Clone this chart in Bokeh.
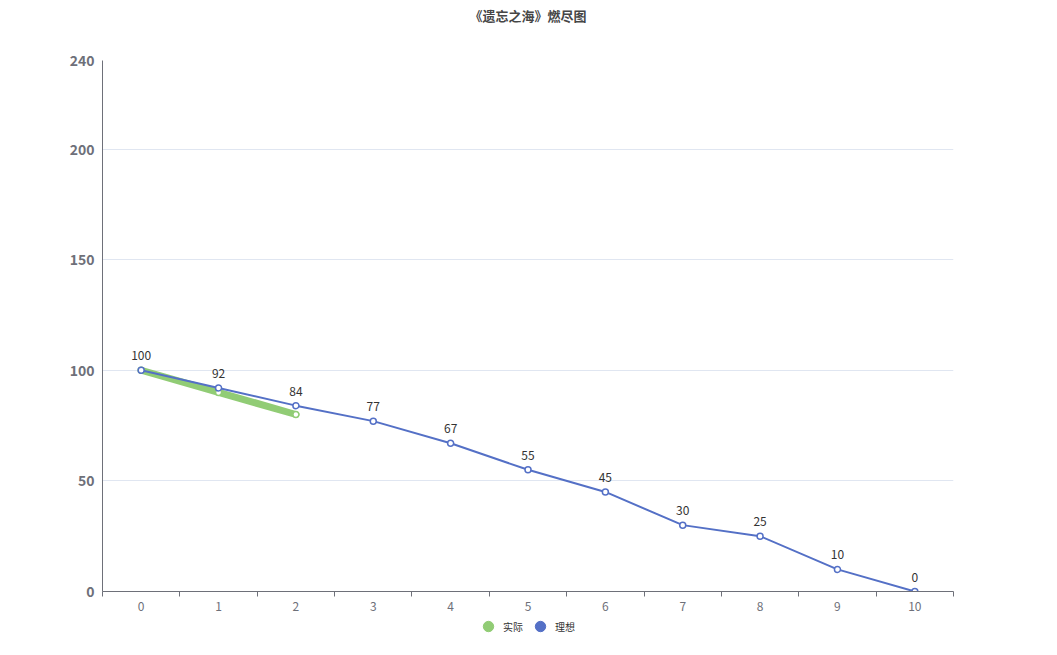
from bokeh.plotting import figure
from bokeh.layouts import column
from bokeh.models import (Range1d, FixedTicker, Legend, LegendItem, ColumnDataSource, Title)
from bokeh.core.properties import value
from bokeh.embed import file_html
from bokeh.resources import INLINE

# ---- data ----
title_text = "《遗忘之海》燃尽图"
days = [0, 1, 2, 3, 4, 5, 6, 7, 8, 9, 10]
ideal = [100, 92, 84, 77, 67, 55, 45, 30, 25, 10, 0]
actual_days = [0, 1, 2]
actual = [100, 90, 80]
y_ticks = [0, 50, 100, 150, 200, 240]
series_names = ["实际", "理想"]

GREEN = "#91cc75"
BLUE = "#5470c6"
AXIS = "#6e7079"
FONT = "Noto Sans CJK SC"

p = figure(width=1041, height=613, output_backend="svg", toolbar_location=None,
           x_range=Range1d(-0.5, 10.5), y_range=Range1d(0, 240),
           min_border_left=102, min_border_right=88, min_border_top=60,
           min_border_bottom=22)
p.outline_line_color = None
p.background_fill_color = "white"
p.border_fill_color = "white"

# real title, with a blank spacer title between it and the frame
p.title.text = title_text
p.title.align = "center"
p.title.text_font = FONT
p.title.text_font_size = "13px"
p.title.text_font_style = "bold"
p.title.text_color = "#464646"
p.title.standoff = 0
p.add_layout(Title(text=" ", text_font_size="1px", standoff=33), "above")

# x axis: labels at categories, tick marks at boundaries
p.xaxis.ticker = FixedTicker(ticks=days, minor_ticks=[d - 0.5 for d in days] + [days[-1] + 0.5])
p.xaxis.major_tick_line_color = None
p.xaxis.major_tick_out = 0
p.xaxis.major_tick_in = 0
p.xaxis.minor_tick_line_color = AXIS
p.xaxis.minor_tick_out = 5
p.xaxis.minor_tick_in = 0
p.xaxis.axis_line_color = AXIS
p.xaxis.major_label_text_color = AXIS
p.xaxis.major_label_text_font = FONT
p.xaxis.major_label_text_font_size = "12px"
p.xaxis.major_label_standoff = 5
p.xgrid.grid_line_color = None

p.yaxis.ticker = FixedTicker(ticks=y_ticks)
p.yaxis.major_tick_line_color = None
p.yaxis.major_tick_out = 0
p.yaxis.minor_tick_line_color = None
p.yaxis.axis_line_color = AXIS
p.yaxis.major_label_text_color = AXIS
p.yaxis.major_label_text_font = FONT
p.yaxis.major_label_text_font_size = "14px"
p.yaxis.major_label_text_font_style = "bold"
p.yaxis.major_label_standoff = 8
p.ygrid.ticker = FixedTicker(ticks=y_ticks)
p.ygrid.grid_line_color = "#e0e6f1"

src_a = ColumnDataSource(dict(x=actual_days, y=actual))
src_i = ColumnDataSource(dict(x=days, y=ideal, lbl=[str(v) for v in ideal]))

# actual series
p.line("x", "y", source=src_a, line_color=GREEN, line_width=7, line_cap="round")
p.scatter("x", "y", source=src_a, size=6, fill_color="white", line_color=GREEN, line_width=1.5)

# ideal series
p.line("x", "y", source=src_i, line_color=BLUE, line_width=2)
p.scatter("x", "y", source=src_i, size=6, fill_color="white", line_color=BLUE, line_width=1.5)
p.text("x", "y", text="lbl", source=src_i, text_align="center", text_baseline="bottom",
       y_offset=-10, text_font=value(FONT), text_font_size="12px", text_color="#333333")

# ---- legend strip (separate figure below the chart) ----
lg = figure(width=1041, height=26, output_backend="svg", toolbar_location=None,
            min_border=0, x_axis_location=None, y_axis_location=None,
            x_range=Range1d(-0.5, 10.5), y_range=Range1d(0, 240))
lg.outline_line_color = None
lg.grid.visible = False
# size 0: invisible in the strip, legend draws its own sized circle
leg_a = lg.scatter("x", "y", source=src_a, size=0, fill_color=GREEN, line_color=GREEN)
leg_i = lg.scatter("x", "y", source=src_i, size=0, fill_color=BLUE, line_color=BLUE)

legend = Legend(items=[LegendItem(label=series_names[0], renderers=[leg_a]),
                       LegendItem(label=series_names[1], renderers=[leg_i])],
                orientation="horizontal", location=(373, 0),
                glyph_width=26, glyph_height=26, label_height=26,
                label_standoff=2, spacing=4,
                padding=0, margin=0, border_line_color=None,
                background_fill_alpha=0, label_text_font=FONT,
                label_text_font_size="10px", label_text_color="#333333")
lg.add_layout(legend, "center")

layout = column(p, lg, spacing=0)
open("out.html", "w").write(file_html(layout, INLINE))
